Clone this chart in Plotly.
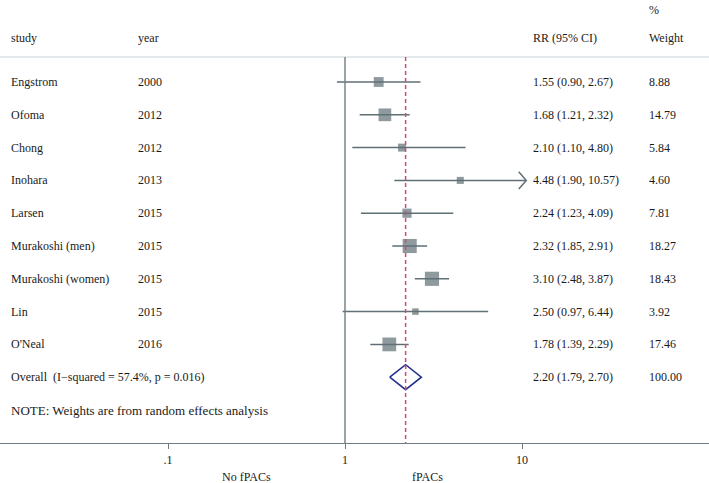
import math
import plotly.graph_objects as go

# ---------------- data ----------------
studies = ["Engstrom", "Ofoma", "Chong", "Inohara", "Larsen", "Murakoshi (men)",
           "Murakoshi (women)", "Lin", "O'Neal"]
years = ["2000", "2012", "2012", "2013", "2015", "2015", "2015", "2015", "2016"]
rr = [1.55, 1.68, 2.10, 4.48, 2.24, 2.32, 3.10, 2.50, 1.78]
ci_low = [0.90, 1.21, 1.10, 1.90, 1.23, 1.85, 2.48, 0.97, 1.39]
ci_high = [2.67, 2.32, 4.80, 10.57, 4.09, 2.91, 3.87, 6.44, 2.29]
weights = [8.88, 14.79, 5.84, 4.60, 7.81, 18.27, 18.43, 3.92, 17.46]

overall_label = "Overall  (I\u2212squared = 57.4%, p = 0.016)"
overall_rr = 2.20
overall_low = 1.79
overall_high = 2.70
overall_weight = 100.00

note = "NOTE: Weights are from random effects analysis"
tick_vals = [0.1, 1, 10]
tick_text = [".1", "1", "10"]
left_label = "No fPACs"
right_label = "fPACs"

# ---------------- styling ----------------
FONT = "Liberation Serif, Times New Roman, serif"
FS = 12
TXT = "#1a1a1a"
MARK = "#5f6f76"
AXC = "#6f7d83"
W, H = 709, 483
MB = 40
PH = H - MB
ROW_PX = 32.8
FIRST_ROW_PX = 82.0

def row_of_px(p):
    return (p - FIRST_ROW_PX) / ROW_PX

ymax_row = row_of_px(PH)
ymin_row = row_of_px(0)

DEC = 177.0
X1 = 345.0
xr = [(0 - X1) / DEC, (W - X1) / DEC]

def px(xpix):
    return xpix / W

fig = go.Figure()

# CI lines
xs, ys = [], []
for i in range(len(studies)):
    xs += [ci_low[i], ci_high[i], None]
    ys += [i, i, None]
fig.add_trace(go.Scatter(x=xs, y=ys, mode="lines",
                         line=dict(color=MARK, width=1.5),
                         hoverinfo="skip", showlegend=False, cliponaxis=True))

# arrow for CI beyond 10
ax, ay = [], []
for i in range(len(studies)):
    if ci_high[i] > 10:
        tip = math.log10(ci_high[i])
        back = 10 ** (tip - 7.5 / DEC)
        ax += [back, ci_high[i], back, None]
        ay += [i - 0.26, i, i + 0.26, None]
fig.add_trace(go.Scatter(x=ax, y=ay, mode="lines",
                         line=dict(color=MARK, width=1.5),
                         hoverinfo="skip", showlegend=False))

# boxes
fig.add_trace(go.Scatter(x=rr, y=list(range(len(studies))), mode="markers",
                         marker=dict(symbol="square", color=MARK,
                                     size=[3.3 * math.sqrt(w) for w in weights],
                                     line=dict(width=0)),
                         hoverinfo="skip", showlegend=False))

# diamond
orow = len(studies)
fig.add_trace(go.Scatter(x=[overall_low, overall_rr, overall_high, overall_rr, overall_low],
                         y=[orow, orow - 0.38, orow, orow + 0.38, orow],
                         mode="lines", line=dict(color="#24318f", width=1.6),
                         hoverinfo="skip", showlegend=False))

header_row = row_of_px(57)

shapes = [
    dict(type="line", xref="paper", yref="y", x0=0, x1=1, y0=header_row, y1=header_row,
         line=dict(color="#c9d3da", width=1.2)),
    dict(type="line", xref="x", yref="y", x0=1, x1=1, y0=header_row, y1=ymax_row,
         line=dict(color=AXC, width=1.4)),
    dict(type="line", xref="x", yref="y", x0=overall_rr, x1=overall_rr,
         y0=header_row, y1=ymax_row,
         line=dict(color="#cf4a74", width=1.5, dash="4px,3px")),
]

ann = []

def text(x, y, s, anchor="left", yref="y", size=FS):
    ann.append(dict(x=x, y=y, xref="paper", yref=yref, text=s, showarrow=False,
                    xanchor=anchor, yanchor="middle",
                    font=dict(family=FONT, size=size, color=TXT)))

COL_STUDY, COL_YEAR, COL_RR, COL_W = px(9), px(136), px(531), px(647)

text(COL_STUDY, row_of_px(38), "study")
text(COL_YEAR, row_of_px(38), "year")
text(COL_RR, row_of_px(38), "RR (95% CI)")
text(COL_W, row_of_px(38), "Weight")
text(COL_W, row_of_px(10), "%")

for i in range(len(studies)):
    text(COL_STUDY, i, studies[i])
    text(COL_YEAR, i, years[i])
    text(COL_RR, i, f"{rr[i]:.2f} ({ci_low[i]:.2f}, {ci_high[i]:.2f})")
    text(COL_W, i, f"{weights[i]:.2f}")

text(COL_STUDY, orow, overall_label)
text(COL_RR, orow, f"{overall_rr:.2f} ({overall_low:.2f}, {overall_high:.2f})")
text(COL_W, orow, f"{overall_weight:.2f}")
text(COL_STUDY, orow + 1, note, size=13)

text(px(246), (PH - 477) / PH, left_label, anchor="center", yref="paper")
text(px(428), (PH - 477) / PH, right_label, anchor="center", yref="paper")

fig.update_layout(
    width=W, height=H,
    margin=dict(l=0, r=0, t=0, b=MB, pad=0),
    paper_bgcolor="white", plot_bgcolor="white",
    shapes=shapes, annotations=ann, showlegend=False,
    xaxis=dict(type="log", range=xr, tickvals=tick_vals, ticktext=tick_text,
               ticks="outside", ticklen=5, tickcolor=AXC, tickwidth=1.2,
               showline=True, linecolor=AXC, linewidth=1.2,
               showgrid=False, zeroline=False, fixedrange=True,
               tickfont=dict(family=FONT, size=FS, color=TXT)),
    yaxis=dict(range=[ymax_row, ymin_row], visible=False, showgrid=False,
               zeroline=False, fixedrange=True),
)

fig.write_html("out.html", config={"displayModeBar": False},
               post_script="document.body.style.margin='0';document.body.style.overflow='hidden';")
